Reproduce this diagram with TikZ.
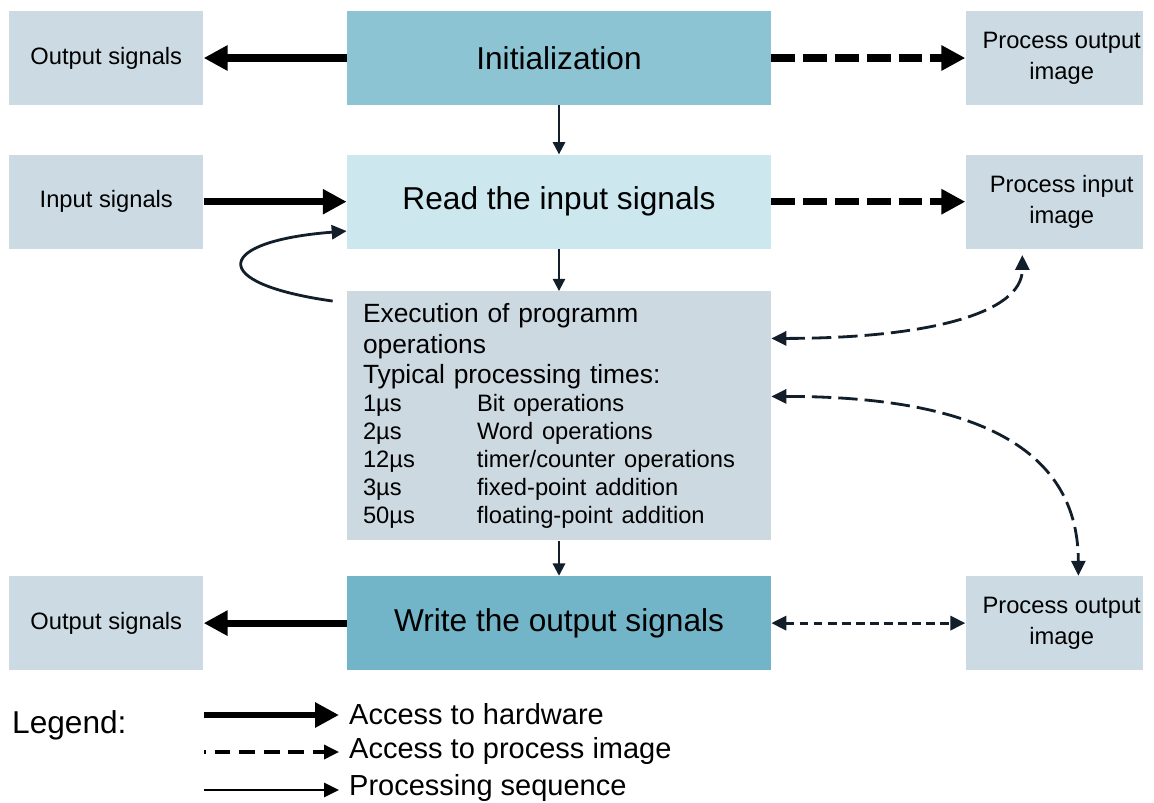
\documentclass[tikz,border=0pt]{standalone}
\usepackage{fontspec}
\setmainfont{Liberation Sans}
\usetikzlibrary{arrows.meta, positioning}

\definecolor{initblue}{HTML}{8DC4D4}
\definecolor{readblue}{HTML}{CCE7EE}
\definecolor{execgray}{HTML}{CCD9E1}
\definecolor{writeblue}{HTML}{72B4C8}
\definecolor{sidegray}{HTML}{CCDBE3}
\definecolor{ink}{HTML}{121E29}

\newcommand{\optime}[2]{{\fontsize{13.5}{16}\selectfont\makebox[2.28cm][l]{#1}\mbox{#2}}}

\begin{document}
\begin{tikzpicture}[
    mainbox/.style={rectangle, minimum width=8.48cm, minimum height=1.88cm, align=center, font=\fontsize{18}{21}\selectfont},
    sidebox/.style={rectangle, fill=sidegray, minimum height=1.88cm, align=center, font=\fontsize{13.5}{17.5}\selectfont},
    imgbox/.style={sidebox, minimum width=3.54cm,
        label={[xshift=0.15cm, align=center, font=\fontsize{13.5}{17.5}\selectfont]center:#1}},
    hw/.style={-{Triangle[length=13.6pt, width=13.6pt]}, line width=4pt},
    hwimg/.style={hw, dash pattern=on 13.6pt off 4.5pt},
    seq/.style={-{Triangle[length=7pt, width=7pt]}, line width=1.2pt, ink},
    img/.style={{Triangle[length=8.5pt, width=8pt]}-{Triangle[length=8.5pt, width=8pt]}, line width=1.6pt, dash pattern=on 11pt off 4pt, ink},
]
\useasboundingbox (0,0) rectangle (23.08,-16.04);

% Cycle steps
\node[mainbox, fill=initblue] (init) at (11.18,-1.16) {Initialization};
\node[mainbox, fill=readblue,  below=0.98cm of init] (read)  {Read the input signals};
\node[mainbox, fill=execgray,  below=0.84cm of read, minimum height=4.98cm, text width=7.84cm,
      inner xsep=0.32cm, align=left, font=\fontsize{15}{16}\selectfont] (exec)
    {Execution of programm\\[1.5pt]
     operations\\[1pt]
     Typical processing times:\\
     \optime{1µs}{Bit operations}\\
     \optime{2µs}{Word operations}\\
     \optime{12µs}{timer/counter operations}\\
     \optime{3µs}{fixed-point addition}\\
     \optime{50µs}{floating-point addition}};
\node[mainbox, fill=writeblue, below=0.7cm of exec]  (write) {Write the output signals};

% Hardware side
\node[sidebox, minimum width=3.88cm, left=2.86cm of init]  (outtop) {Output signals};
\node[sidebox, minimum width=3.88cm, left=2.86cm of read]  (inhw)   {Input signals};
\node[sidebox, minimum width=3.88cm, left=2.86cm of write] (outbot) {Output signals};

% Process image side
\node[imgbox={Process output\\image}, right=3.88cm of init]  (outimgtop) {};
\node[imgbox={Process input\\image},  right=3.88cm of read]  (inimg)     {};
\node[imgbox={Process output\\image}, right=3.88cm of write] (outimgbot) {};

% Processing sequence
\draw[seq] (init)  -- (read);
\draw[seq] (read)  -- (exec);
\draw[seq] (exec)  -- (write);
\draw[seq, line width=1.6pt, -{Triangle[length=8.5pt, width=8pt]}]
    ([shift={(-0.28,-0.2)}]exec.north west)
    .. controls +(-2.56,0.36) and +(-2.62,-0.2) .. ([yshift=0.36cm]read.south west);

% Hardware access
\draw[hw] (init.west)  -- (outtop.east);
\draw[hw] (inhw.east)  -- (read.west);
\draw[hw] (write.west) -- (outbot.east);

% Process image access
\draw[hwimg] (init.east) -- (outimgtop.west);
\draw[hwimg] (read.east) -- (inimg.west);
\draw[img] ([yshift=1.55cm]exec.east)
    .. controls +(3.0,0) and +(0,-1.2) .. ([shift={(1.14,-0.12)}]inimg.south west);
\draw[img] ([yshift=0.39cm]exec.east)
    .. controls +(3.6,0) and +(0,2.8) .. ([xshift=2.26cm]outimgbot.north west);
\draw[img, dash pattern=on 5pt off 3pt] (write.east) -- (outimgbot.west);

% Legend
\node[anchor=west, font=\fontsize{18}{21}\selectfont] (legend) at (0.12,-14.5) {Legend:};
\node[anchor=west, font=\fontsize{16.5}{19}\selectfont] (lghw)  at (6.86,-14.28) {Access to hardware};
\node[anchor=west, font=\fontsize{16.5}{19}\selectfont] (lgimg) at (6.86,-15.02) {Access to process image};
\node[anchor=west, font=\fontsize{16.5}{19}\selectfont] (lgseq) at (6.86,-15.76) {Processing sequence};
\coordinate (hwstart)  at (4.08,-14.3);
\coordinate (imgstart) at (4.08,-15.04);
\coordinate (seqstart) at (4.08,-15.8);
\draw[hw, line width=3.6pt] (hwstart) -- ([xshift=-0.08cm]lghw.west |- hwstart);
\draw[-{Triangle[length=8.5pt, width=8pt]}, line width=1.8pt, dash pattern=on 9pt off 5pt, dash phase=8pt]
    (imgstart) -- ([xshift=-0.08cm]lgimg.west |- imgstart);
\draw[-{Triangle[length=8.5pt, width=8pt]}, line width=1.6pt]
    (seqstart) -- ([xshift=-0.08cm]lgseq.west |- seqstart);
\end{tikzpicture}
\end{document}
